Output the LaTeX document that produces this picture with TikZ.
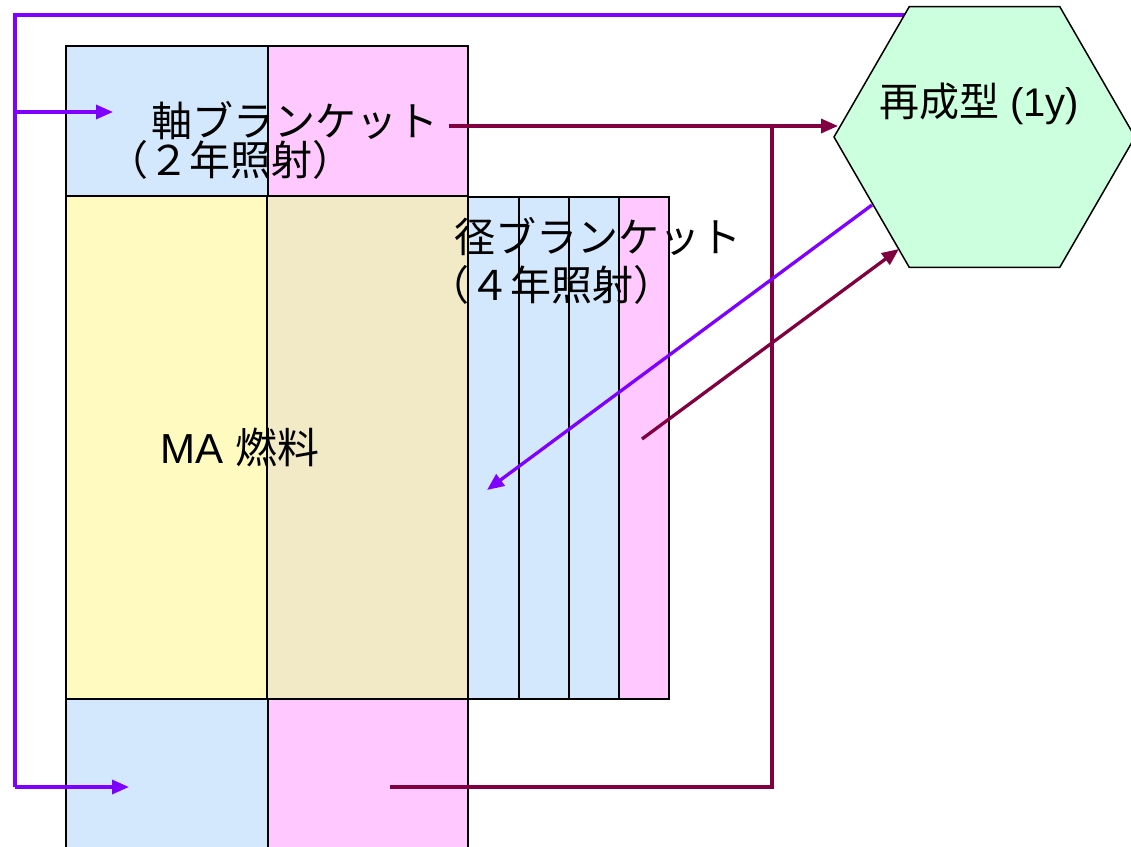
\documentclass[tikz,border=0pt]{standalone}
\usepackage{fontspec}
\setmainfont{Liberation Sans}
\newfontfamily\jp{Noto Sans CJK JP}
\usetikzlibrary{shapes.geometric,arrows.meta}
\definecolor{cblue}{RGB}{211,232,252}
\definecolor{cpink}{RGB}{255,200,255}
\definecolor{cyel}{RGB}{255,250,192}
\definecolor{ctan}{RGB}{242,234,198}
\definecolor{chex}{RGB}{204,255,221}
\definecolor{cpur}{RGB}{128,0,255}
\definecolor{cred}{RGB}{128,0,64}
\tikzset{
  cell/.style={draw=black,line width=2.2pt,inner sep=0pt,outer sep=0pt,anchor=north west},
  jptext/.style={inner sep=0pt,font=\jp\fontsize{41}{48}\selectfont},
  purline/.style={draw=cpur,line width=3.3pt},
  redline/.style={draw=cred,line width=3.3pt},
  tipp/.style={-{Triangle[length=17pt,width=14pt]}},
}
\begin{document}
\begin{tikzpicture}[x=1pt,y=-1pt]
\useasboundingbox (0,0) rectangle (1131,846);
\clip (0,0) rectangle (1131,846);
% axial blanket top
\node[cell,fill=cblue,minimum width=202pt,minimum height=150pt] (ab1) at (66,46) {};
\node[cell,fill=cpink,minimum width=200pt,minimum height=150pt] (ab2) at (268,46) {};
% MA fuel
\node[cell,fill=cyel,minimum width=201pt,minimum height=503pt] (ma1) at (66,196) {};
\node[cell,fill=ctan,minimum width=201pt,minimum height=503pt] (ma2) at (267,196) {};
% radial blanket
\node[cell,fill=cblue,minimum width=51pt,minimum height=502pt] (rb1) at (468,197) {};
\node[cell,fill=cblue,minimum width=50pt,minimum height=502pt] (rb2) at (519,197) {};
\node[cell,fill=cblue,minimum width=50pt,minimum height=502pt] (rb3) at (569,197) {};
\node[cell,fill=cpink,minimum width=50pt,minimum height=502pt] (rb4) at (619,197) {};
% axial blanket bottom
\node[cell,fill=cblue,minimum width=202pt,minimum height=170pt] (bb1) at (66,699) {};
\node[cell,fill=cpink,minimum width=200pt,minimum height=170pt] (bb2) at (268,699) {};
% texts
\node[jptext] (abt1) at (295,121) {軸ブランケット};
\node[jptext] (abt2) at (230,160) {（２年照射）};
\node[jptext] (rbt1) at (598,237) {径ブランケット};
\node[jptext] (rbt2) at (551,285) {（４年照射）};
\node[inner sep=0pt,font=\fontsize{42}{50}\selectfont] (mat) at (240,447) {MA {\jp 燃料}};
% purple connectors
\coordinate (pTop) at (905,15);
\coordinate (pTL) at (15,15);
\coordinate (pBL) at (15,787);
\coordinate (pAx) at (15,112);
\coordinate (aAx) at (113,112);
\coordinate (aBot) at (129,787);
\draw[purline] (pTop) -- (pTL) -- (pBL);
\draw[purline,tipp] (pBL) -- (aBot);
\draw[purline,tipp] (pAx) -- (aAx);
% dark red connectors
\coordinate (rS) at (449,126);
\coordinate (rE) at (838,126);
\coordinate (rJ) at (772,126);
\coordinate (rB) at (772,787);
\coordinate (rBS) at (390,787);
\draw[redline,tipp] (rS) -- (rE);
\draw[redline] (rJ) -- (rB) -- (rBS);
% hexagon
\node[regular polygon,regular polygon sides=6,minimum size=301pt,inner sep=0pt,draw=black,line width=1.5pt,fill=chex] (hex) at (984.5,137) {};
\node[inner sep=0pt,font=\fontsize{40}{48}\selectfont] (hext) at (979,104) {{\jp 再成型} (1y)};
% diagonals
\coordinate (pd1) at (872,205);
\coordinate (pd2) at (487,490);
\coordinate (rd1) at (642,439);
\coordinate (rd2) at (899,249);
\draw[purline,tipp] (pd1) -- (pd2);
\draw[redline,tipp] (rd1) -- (rd2);
\end{tikzpicture}
\end{document}
